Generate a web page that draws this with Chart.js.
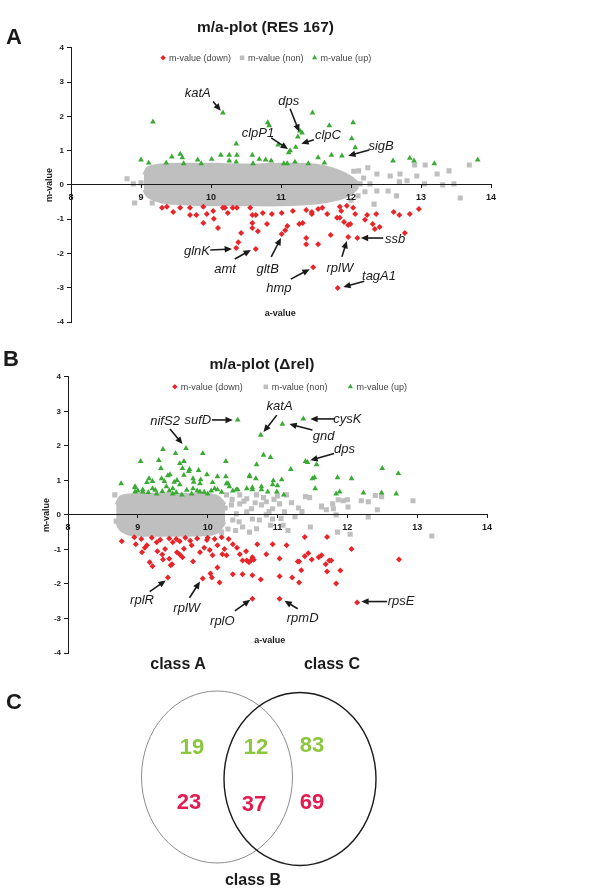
<!DOCTYPE html>
<html>
<head>
<meta charset="utf-8">
<script src="https://cdn.jsdelivr.net/npm/chart.js@4.4.1/dist/chart.umd.min.js"></script>
<style>
  body { margin: 0; width: 600px; height: 888px; position: relative; overflow: hidden; background: #fff;
         font-family: "Liberation Sans", Arial, sans-serif; }
  canvas { position: absolute; left: 0; }
  .lbl { position: absolute; font-weight: bold; color: #1a1a1a; white-space: nowrap; }
  .set { width: 120px; text-align: center; font-size: 16px; line-height: 16px; }
</style>
</head>
<body>
<canvas id="chartA" width="546" height="330" style="top:0"></canvas>
<canvas id="chartB" width="547" height="324" style="top:337px"></canvas>
<canvas id="venn" width="600" height="248" style="top:640px"></canvas>

<div class="lbl" style="left:6px;top:26px;font-size:22px;line-height:22px">A</div>
<div class="lbl" style="left:3px;top:348px;font-size:22px;line-height:22px">B</div>
<div class="lbl" style="left:6px;top:691px;font-size:22px;line-height:22px">C</div>
<div class="lbl set" style="left:118px;top:656px">class A</div>
<div class="lbl set" style="left:272px;top:656px">class C</div>
<div class="lbl set" style="left:193px;top:872px">class B</div>

<script>
// ---- panel A: m/a-plot (RES 167), points as [a-value, m-value] ----
const downA = [[9.3,-0.67],[9.37,-0.64],[9.46,-0.79],[9.56,-0.67],[9.7,-0.67],[9.7,-0.88],[9.79,-0.88],[9.89,-0.64],
  [9.89,-1.11],[9.94,-0.85],[10.03,-0.76],[10.04,-0.99],[10.1,-1.26],[10.17,-0.67],[10.2,-0.67],[10.24,-0.82],
  [10.31,-0.67],[10.37,-0.67],[10.43,-1.4],[10.39,-1.67],[10.36,-1.84],[10.56,-0.67],[10.59,-0.88],[10.64,-0.88],
  [10.59,-1.11],[10.59,-1.26],[10.67,-1.35],[10.64,-1.87],[10.74,-0.82],[10.8,-1.14],[10.87,-0.85],[11.01,-0.82],
  [11.09,-1.2],[11.06,-1.32],[11.01,-1.43],[11.17,-0.76],[11.26,-1.14],[11.36,-0.73],[11.44,-0.79],[11.44,-0.85],
  [11.53,-0.7],[11.59,-0.67],[11.66,-0.85],[11.84,-0.64],[11.86,-0.76],[11.94,-0.61],[12.03,-0.67],[12.06,-0.85],
  [11.8,-0.96],[11.84,-0.96],[11.9,-1.08],[11.99,-1.14],[11.96,-1.17],[11.31,-1.11],[12.23,-0.88],[12.2,-1.02],
  [12.36,-0.85],[12.31,-1.14],[12.34,-1.29],[12.41,-1.23],[12.61,-0.79],[12.69,-0.88],[12.84,-0.85],[12.97,-0.7],
  [12.77,-1.4],[11.36,-1.55],[11.36,-1.73],[11.53,-1.73],[11.71,-1.46],[11.96,-1.52],[12.09,-1.55],[11.46,-2.4],
  [11.81,-3.01]];
const nonA = [[8.8,0.18],[8.89,0.03],[9.0,0.06],[8.91,-0.53],[9.16,-0.53],[12.11,0.41],[12.24,0.5],[12.37,0.32],
  [12.56,0.26],[12.7,0.32],[12.69,0.09],[12.8,0.12],[12.91,0.58],[12.94,0.26],[13.06,0.58],[13.05,0.03],[13.23,0.32],
  [13.31,0],[13.4,0.41],[13.47,0.03],[13.56,-0.38],[13.69,0.58],[12.53,-0.18],[12.37,-0.18],[12.1,-0.32],[12.27,0.03],
  [12.13,0.03],[12.33,-0.56],[12.65,-0.32],[12.04,0.4],[12.18,0.2],[12.0,-0.45],[12.2,-0.2]];
const upA = [[9.0,0.73],[9.11,0.64],[9.17,1.84],[9.36,0.64],[9.44,0.82],[9.56,0.9],[9.59,0.8],[9.61,0.62],[9.81,0.73],
  [9.86,0.62],[10.01,0.75],[10.14,0.87],[10.17,2.1],[10.26,0.87],[10.26,0.7],[10.36,1.2],[10.37,0.87],[10.36,0.67],
  [10.59,0.87],[10.6,0.62],[10.69,0.75],[10.78,0.73],[10.81,1.82],[10.83,1.73],[10.86,0.7],[10.96,1.17],[11.04,0.62],
  [11.09,0.62],[11.11,0.94],[11.13,1.0],[11.2,0.67],[11.21,1.1],[11.24,1.4],[11.27,1.58],[11.3,1.52],[11.45,2.1],
  [11.69,1.73],[12.03,1.82],[12.01,1.35],[12.06,1.09],[11.53,0.8],[11.72,0.87],[11.87,0.85],[11.39,0.62],[11.62,0.64],
  [12.6,0.7],[12.84,0.78],[12.9,0.7],[13.19,0.62],[13.81,0.73]];
// dense grey cloud of unchanged genes: upper and lower edge
const cloudA_a   = [9.04, 9.1, 9.3, 9.6, 10.0, 10.5, 11.0, 11.5, 11.8, 12.0, 12.1];
const cloudA_top = [0.3, 0.5, 0.58, 0.6, 0.6, 0.58, 0.6, 0.57, 0.42, 0.22, 0.05];
const cloudA_bot = [-0.15, -0.34, -0.5, -0.55, -0.58, -0.58, -0.58, -0.53, -0.42, -0.27, -0.05];

// ---- panel B: m/a-plot (delta rel) ----
const downB = [[8.77,-0.76],[8.97,-0.85],[9.06,-1.08],[9.17,-1.37],[9.21,-1.49],[9.36,-1.29],[9.47,-1.46],[9.49,-1.43],
  [9.43,-1.81],[9.13,-0.88],[9.27,-0.79],[9.39,-0.99],[9.5,-0.79],[9.56,-1.08],[9.64,-1.23],[9.6,-0.76],[9.77,-0.88],
  [9.79,-1.35],[9.89,-1.08],[9.93,-1.84],[9.99,-0.73],[10.03,-1.02],[10.07,-1.17],[10.14,-0.88],[10.21,-1.14],
  [10.24,-0.99],[10.27,-1.17],[10.36,-0.85],[10.46,-1.14],[10.5,-1.32],[10.56,-1.32],[10.59,-1.37],[10.64,-1.23],
  [10.14,-1.52],[10.04,-1.7],[10.06,-1.81],[10.17,-1.96],[10.36,-1.72],[10.5,-1.72],[10.64,-1.75],[10.76,-1.87],
  [10.64,-2.43],[10.71,-0.85],[10.84,-1.14],[10.93,-0.85],[11.03,-1.26],[11.03,-1.78],[11.03,-2.43],[11.13,-0.88],
  [11.21,-1.81],[11.29,-1.35],[11.39,-0.64],[11.31,-1.35],[11.34,-1.6],[11.31,-1.96],[11.39,-1.2],[11.44,-1.11],
  [11.49,-1.29],[11.59,-1.23],[11.63,-1.17],[11.71,-0.64],[11.69,-1.43],[11.74,-1.32],[11.77,-1.32],[11.71,-1.64],
  [11.84,-1.99],[11.9,-1.61],[12.06,-0.99],[12.74,-1.29],[12.14,-2.54],[8.95,-0.65],[9.05,-0.7],[9.2,-0.66],
  [9.32,-0.72],[9.45,-0.68],[9.55,-0.7],[9.68,-0.66],[9.75,-0.75],[9.85,-0.68],[10.0,-0.66],[10.1,-0.7],[10.2,-0.65],
  [9.1,-0.95],[9.28,-1.05],[9.66,-0.98],[9.95,-0.95],[9.6,-1.15],[9.35,-1.15],[9.45,-1.27],[10.3,-0.7],[10.42,-0.95],
  [10.55,-1.05],[10.66,-1.3],[10.62,-1.32]];
const nonB = [[8.67,0.58],[8.69,-0.18],[10.27,0.58],[10.34,0.29],[10.41,0.03],[10.36,-0.15],[10.29,-0.41],[10.46,0.32],
  [10.56,0.47],[10.63,0.18],[10.7,0.58],[10.77,0.29],[10.64,-0.12],[10.74,-0.15],[10.84,0.38],[10.84,0],[10.93,0.18],
  [10.93,-0.12],[11.03,0.32],[11.1,0.09],[11.13,0.58],[10.56,0.09],[10.46,0.58],[11.4,0.53],[11.46,0.5],[11.63,0.26],
  [11.7,0.15],[11.79,0.32],[11.8,0.18],[11.87,0.44],[11.94,0.41],[12.0,0.44],[12.01,0.23],[12.2,0.41],[12.3,0.38],
  [12.4,0.56],[12.49,0.53],[12.43,0.15],[12.94,0.41],[12.3,-0.06],[11.84,0],[11.47,-0.35],[11.86,-0.5],[12.04,-0.56],
  [13.21,-0.61],[11.63,0.23],[10.5,-0.35],[10.7,-0.4],[10.9,-0.3],[11.05,-0.1],[11.2,0.35],[11.25,-0.05],[11.3,0.2],
  [10.8,0.5],[11.0,0.55],[10.35,0.45],[10.6,-0.5],[11.15,-0.45],[11.35,0.1],[10.45,-0.2],[10.52,0.4],[10.68,0.35],
  [10.95,0.45],[11.08,-0.3],[10.88,0.1],[10.4,-0.45],[10.2,-0.5],[10.25,0.2]];
const upB = [[8.76,0.91],[8.96,0.79],[9.04,1.55],[9.13,0.94],[9.21,0.97],[9.3,1.58],[9.33,1.35],[9.36,1.9],[9.34,1.05],
  [9.43,1.14],[9.54,1.78],[9.6,1.49],[9.64,1.35],[9.66,1.55],[9.69,1.93],[9.74,1.32],[9.79,1.05],[9.93,1.78],[9.87,1.29],
  [9.99,1.17],[10.07,0.94],[10.26,1.55],[10.29,0.91],[10.26,1.11],[10.43,2.75],[10.6,1.14],[10.7,1.46],[10.69,1.05],
  [10.76,2.31],[10.8,1.73],[10.9,1.67],[10.94,0.99],[11.07,2.63],[11.19,1.32],[11.0,0.85],[11.09,0.58],[8.96,0.82],
  [9.07,0.73],[9.21,0.76],[9.41,0.82],[9.46,1.17],[9.5,0.76],[9.6,0.88],[9.73,1.26],[9.79,0.76],[9.89,0.91],[10.1,0.76],
  [10.14,1.11],[10.27,0.91],[10.31,0.82],[10.41,0.73],[10.6,1.11],[10.64,0.73],[10.77,0.82],[10.93,0.88],[10.99,0.67],
  [11.06,1.02],[8.96,0.67],[9.07,0.67],[9.27,0.61],[9.5,0.61],[9.63,0.58],[9.77,0.61],[9.89,0.67],[10.0,0.61],
  [10.14,0.73],[10.36,0.7],[10.43,0.73],[10.56,0.76],[10.64,0.79],[10.77,0.73],[10.86,0.67],[11.37,2.78],[11.4,1.55],
  [11.43,1.52],[11.56,1.46],[11.5,1.05],[11.53,1.08],[11.54,0.76],[11.86,1.08],[12.06,1.05],[11.84,0.61],[11.89,0.67],
  [12.23,0.64],[12.49,0.64],[12.5,1.35],[12.73,1.2],[12.7,0.61],[9.0,0.7],[9.15,0.65],[9.25,0.72],[9.35,0.68],
  [9.45,0.7],[9.55,0.65],[9.7,0.72],[9.85,0.7],[9.95,0.66],[10.05,0.7],[10.2,0.66],[9.56,1.0],[9.8,0.95],[9.66,1.15],
  [9.52,0.95],[9.9,1.02],[9.38,0.97],[9.16,1.05]];
const cloudB_a   = [8.69, 8.75, 8.9, 9.2, 9.6, 10.0, 10.15, 10.25];
const cloudB_top = [0.3, 0.52, 0.58, 0.6, 0.6, 0.59, 0.52, 0.3];
const cloudB_bot = [-0.18, -0.42, -0.57, -0.59, -0.59, -0.57, -0.48, -0.2];

const aTicks = [8, 9, 10, 11, 12, 13, 14];
const mTicks = [-4, -3, -2, -1, 0, 1, 2, 3, 4];

// ---- panel C: Venn counts (up / down) for A only, A and C, C only ----
const vennUp = [19, 12, 83];
const vennDown = [23, 37, 69];

// gene labels: text position, arrow start, arrow tip (in a/m units)
const notesA = [
  { text: 'katA', at: [9.81, 2.66], from: [10.03, 2.43], to: [10.14, 2.16] },
  { text: 'dps', at: [11.11, 2.43], from: [11.13, 2.22], to: [11.26, 1.55] },
  { text: 'clpP1', at: [10.67, 1.49], from: [10.86, 1.37], to: [11.1, 1.05] },
  { text: 'clpC', at: [11.67, 1.43], from: [11.47, 1.32], to: [11.29, 1.2] },
  { text: 'sigB', at: [12.43, 1.11], from: [12.26, 1.02], to: [11.96, 0.85] },
  { text: 'glnK', at: [9.8, -1.93], from: [9.99, -1.9], to: [10.3, -1.87] },
  { text: 'amt', at: [10.2, -2.46], from: [10.34, -2.16], to: [10.57, -1.9] },
  { text: 'gltB', at: [10.81, -2.46], from: [10.86, -2.1], to: [11.0, -1.55] },
  { text: 'hmp', at: [10.97, -3.01], from: [11.14, -2.75], to: [11.41, -2.46] },
  { text: 'rplW', at: [11.84, -2.43], from: [11.87, -2.1], to: [11.94, -1.64] },
  { text: 'ssb', at: [12.63, -1.58], from: [12.46, -1.55], to: [12.14, -1.55] },
  { text: 'tagA1', at: [12.4, -2.66], from: [12.19, -2.81], to: [11.89, -2.98] }
];
const notesB = [
  { text: 'nifS2', at: [9.39, 2.72], from: [9.46, 2.49], to: [9.64, 2.05] },
  { text: 'sufD', at: [9.86, 2.75], from: [10.06, 2.75], to: [10.36, 2.75] },
  { text: 'katA', at: [11.03, 3.13], from: [10.99, 2.89], to: [10.8, 2.4] },
  { text: 'gnd', at: [11.66, 2.28], from: [11.5, 2.46], to: [11.17, 2.63] },
  { text: 'cysK', at: [12.0, 2.78], from: [11.81, 2.78], to: [11.47, 2.78] },
  { text: 'dps', at: [11.96, 1.9], from: [11.81, 1.78], to: [11.47, 1.58] },
  { text: 'rplR', at: [9.06, -2.49], from: [9.17, -2.22], to: [9.4, -1.9] },
  { text: 'rplW', at: [9.7, -2.72], from: [9.74, -2.4], to: [9.89, -1.93] },
  { text: 'rplO', at: [10.21, -3.07], from: [10.39, -2.78], to: [10.61, -2.46] },
  { text: 'rpmD', at: [11.36, -3.01], from: [11.29, -2.72], to: [11.1, -2.49] },
  { text: 'rpsE', at: [12.77, -2.51], from: [12.57, -2.51], to: [12.2, -2.51] }
];

const FONT = '"Liberation Sans", Arial, sans-serif';
const RED = '#e8262a', GREY = '#bfbfbf', GREEN = '#3aaa35';

function pts(list) { return list.map(p => ({ x: p[0], y: p[1] })); }

function arrow(ctx, x1, y1, x2, y2) {
  const ang = Math.atan2(y2 - y1, x2 - x1), h = 8;
  ctx.beginPath();
  ctx.moveTo(x1, y1);
  ctx.lineTo(x2 - Math.cos(ang) * h * 0.7, y2 - Math.sin(ang) * h * 0.7);
  ctx.stroke();
  ctx.beginPath();
  ctx.moveTo(x2, y2);
  ctx.lineTo(x2 - h * Math.cos(ang - 0.42), y2 - h * Math.sin(ang - 0.42));
  ctx.lineTo(x2 - h * Math.cos(ang + 0.42), y2 - h * Math.sin(ang + 0.42));
  ctx.closePath();
  ctx.fill();
}

// legend inside the plot, gene labels with arrows, a-value title
const maPlot = {
  id: 'maPlot',
  afterDatasetsDraw(chart, args, opts) {
    const { ctx, chartArea, scales: { x, y } } = chart;
    ctx.save();

    const items = chart.data.datasets.filter(d => d.label);
    ctx.font = '9px ' + FONT;
    ctx.textBaseline = 'middle';
    const widths = items.map(d => 9 + ctx.measureText(d.label).width);
    const total = widths.reduce((s, w) => s + w, 0) + opts.legendGap * (items.length - 1);
    let lx = x.getPixelForValue(opts.legendAt) - total / 2;
    const ly = chartArea.top + 10;
    items.forEach((d, i) => {
      ctx.fillStyle = d.backgroundColor;
      Chart.helpers.drawPoint(ctx, { pointStyle: d.pointStyle, radius: d.pointRadius * 0.9, borderWidth: 0 }, lx + 3, ly);
      ctx.fillStyle = '#444';
      ctx.textAlign = 'left';
      ctx.fillText(d.label, lx + 9, ly + 0.5);
      lx += widths[i] + opts.legendGap;
    });

    ctx.strokeStyle = '#1a1a1a';
    ctx.fillStyle = '#1a1a1a';
    ctx.lineWidth = 1.6;
    ctx.font = 'italic 13px ' + FONT;
    ctx.textAlign = 'center';
    opts.notes.forEach(n => {
      arrow(ctx, x.getPixelForValue(n.from[0]), y.getPixelForValue(n.from[1]),
                 x.getPixelForValue(n.to[0]), y.getPixelForValue(n.to[1]));
      ctx.fillText(n.text, x.getPixelForValue(n.at[0]), y.getPixelForValue(n.at[1]));
    });

    ctx.font = 'bold 9px ' + FONT;
    ctx.fillText('a-value', x.getPixelForValue(opts.xTitleAt[0]), y.getPixelForValue(opts.xTitleAt[1]));
    ctx.restore();
  }
};

function maChart(id, cfg) {
  return new Chart(document.getElementById(id), {
    type: 'scatter',
    data: {
      datasets: [
        { label: 'm-value (down)', data: pts(cfg.down), pointStyle: 'rectRot', pointRadius: 3,
          backgroundColor: RED, borderColor: RED, borderWidth: 0, order: 0 },
        { label: 'm-value (non)', data: pts(cfg.non), pointStyle: 'rect', pointRadius: 3.6,
          backgroundColor: GREY, borderColor: GREY, borderWidth: 0, order: 1 },
        { label: 'm-value (up)', data: pts(cfg.up), pointStyle: 'triangle', pointRadius: 3.3,
          backgroundColor: GREEN, borderColor: GREEN, borderWidth: 0, order: 0 },
        { type: 'line', label: '', data: cfg.cloudA.map((a, i) => ({ x: a, y: cfg.cloudTop[i] })),
          fill: '+1', backgroundColor: GREY, borderColor: GREY, borderWidth: 3, pointRadius: 0, tension: 0.3, order: 2 },
        { type: 'line', label: '', data: cfg.cloudA.map((a, i) => ({ x: a, y: cfg.cloudBot[i] })),
          fill: false, backgroundColor: GREY, borderColor: GREY, borderWidth: 3, pointRadius: 0, tension: 0.3, order: 2 }
      ]
    },
    options: {
      responsive: false,
      animation: false,
      layout: { padding: { left: cfg.padLeft, right: cfg.padRight, top: 8, bottom: 8 } },
      scales: {
        x: {
          type: 'linear', position: { y: 0 }, min: aTicks[0], max: aTicks[aTicks.length - 1],
          afterBuildTicks: s => { s.ticks = aTicks.map(v => ({ value: v })); },
          ticks: { z: 1, color: '#1a1a1a', padding: 4, font: { family: FONT, size: 9, weight: 'bold' } },
          grid: { z: 1, drawOnChartArea: false, tickLength: 3, color: '#1a1a1a' },
          border: { z: 1, color: '#1a1a1a', width: 1 }
        },
        y: {
          type: 'linear', min: mTicks[0], max: mTicks[mTicks.length - 1],
          afterBuildTicks: s => { s.ticks = mTicks.map(v => ({ value: v })); },
          afterFit: s => { s.width = 31; },
          ticks: { color: '#1a1a1a', padding: 3, font: { family: FONT, size: 8, weight: 'bold' } },
          grid: { drawOnChartArea: false, tickLength: 4, color: '#1a1a1a' },
          border: { color: '#1a1a1a', width: 1 },
          title: { display: true, text: 'm-value', color: '#1a1a1a', padding: 4,
                   font: { family: FONT, size: 9, weight: 'bold' } }
        }
      },
      plugins: {
        legend: { display: false },
        tooltip: { enabled: false },
        title: { display: true, text: cfg.title, color: '#1a1a1a',
                 padding: { top: 10, bottom: cfg.titleGap }, font: { family: FONT, size: 15.5, weight: 'bold' } },
        maPlot: { notes: cfg.notes, legendAt: cfg.legendAt, legendGap: cfg.legendGap, xTitleAt: cfg.xTitleAt }
      }
    },
    plugins: [maPlot]
  });
}

maChart('chartA', {
  title: 'm/a-plot (RES 167)', down: downA, non: nonA, up: upA,
  cloudA: cloudA_a, cloudTop: cloudA_top, cloudBot: cloudA_bot,
  padLeft: 40, padRight: 55, titleGap: 11.2, notes: notesA,
  legendAt: 10.78, legendGap: 8, xTitleAt: [10.99, -3.74]
});

maChart('chartB', {
  title: 'm/a-plot (\u0394rel)', down: downB, non: nonB, up: upB,
  cloudA: cloudB_a, cloudTop: cloudB_top, cloudBot: cloudB_bot,
  padLeft: 37, padRight: 60, titleGap: 3.2, notes: notesB,
  legendAt: 11.17, legendGap: 20, xTitleAt: [10.89, -3.65]
});

// ---- Venn diagram, in a 600 x 248 frame ----
const vennCircles = [
  { cx: 217, cy: 137, rx: 75.5, ry: 86, color: '#8c8c8c', width: 1 },
  { cx: 300, cy: 139, rx: 76, ry: 86.5, color: '#1a1a1a', width: 1.4 }
];
const vennUpPos = [[192, 108], [256, 108], [312, 106]];
const vennDownPos = [[189, 163], [254, 165], [312, 163]];

const vennPlugin = {
  id: 'vennPlugin',
  beforeDatasetsDraw(chart) {
    const { ctx, scales: { x, y } } = chart;
    ctx.save();
    vennCircles.forEach(c => {
      const px = x.getPixelForValue(c.cx), py = y.getPixelForValue(c.cy);
      const rx = Math.abs(x.getPixelForValue(c.cx + c.rx) - px);
      const ry = Math.abs(y.getPixelForValue(c.cy + c.ry) - py);
      ctx.beginPath();
      ctx.ellipse(px, py, rx, ry, 0, 0, Math.PI * 2);
      ctx.strokeStyle = c.color;
      ctx.lineWidth = c.width;
      ctx.stroke();
    });
    ctx.restore();
  },
  afterDatasetsDraw(chart) {
    const { ctx } = chart;
    ctx.save();
    ctx.font = 'bold 22px ' + FONT;
    ctx.textAlign = 'center';
    ctx.textBaseline = 'middle';
    chart.data.datasets.forEach((ds, di) => {
      ctx.fillStyle = ds.textColor;
      chart.getDatasetMeta(di).data.forEach((el, j) => {
        ctx.fillText(String(ds.counts[j]), el.x, el.y);
      });
    });
    ctx.restore();
  }
};

new Chart(document.getElementById('venn'), {
  type: 'scatter',
  data: {
    datasets: [
      { label: 'up', counts: vennUp, textColor: '#8cc63e', pointRadius: 0,
        data: vennUpPos.map(p => ({ x: p[0], y: p[1] })) },
      { label: 'down', counts: vennDown, textColor: '#e31b4f', pointRadius: 0,
        data: vennDownPos.map(p => ({ x: p[0], y: p[1] })) }
    ]
  },
  options: {
    responsive: false,
    animation: false,
    layout: { padding: 0 },
    scales: {
      x: { display: false, min: 0, max: 600 },
      y: { display: false, min: 0, max: 248, reverse: true }
    },
    plugins: { legend: { display: false }, tooltip: { enabled: false } }
  },
  plugins: [vennPlugin]
});
</script>
</body>
</html>
